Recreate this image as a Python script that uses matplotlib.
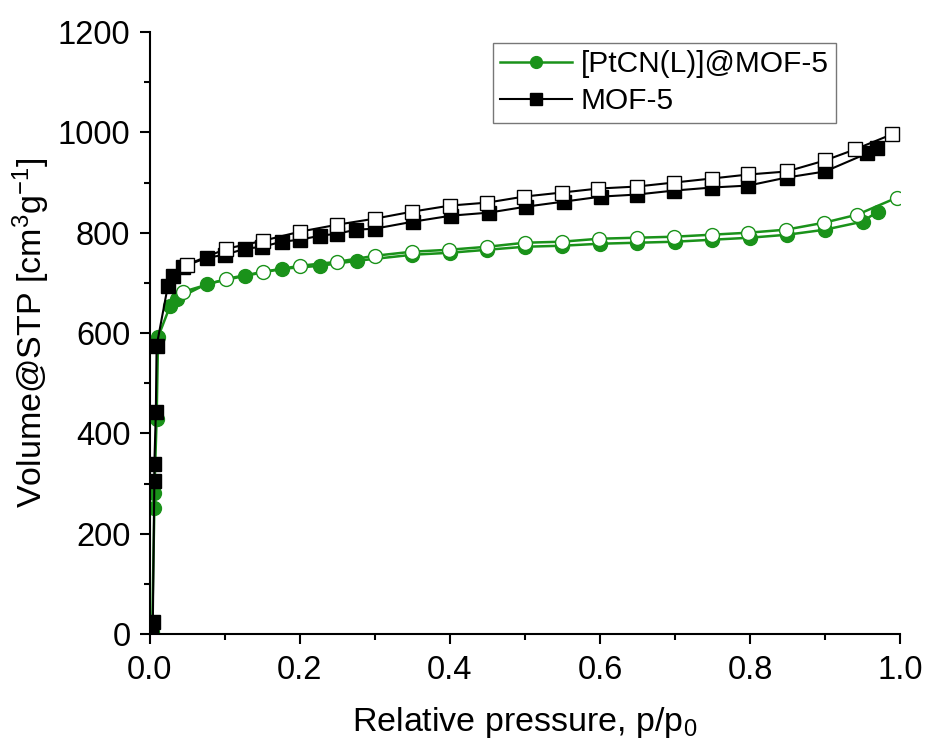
import numpy as np
import matplotlib.pyplot as plt
from matplotlib.ticker import MultipleLocator

plt.rcParams['font.family'] = ['Liberation Sans', 'DejaVu Sans']
plt.rcParams['mathtext.fontset'] = 'custom'
plt.rcParams['mathtext.rm'] = 'Liberation Sans'
plt.rcParams['mathtext.it'] = 'Liberation Sans:italic'

# MOF-5 adsorption (filled) / desorption (open)
mof_ads_p = [0.001, 0.004, 0.006, 0.006, 0.008, 0.009, 0.024, 0.031, 0.044, 0.076, 0.1, 0.127,
             0.15, 0.176, 0.2, 0.227, 0.25, 0.275, 0.3, 0.351, 0.402, 0.452, 0.502, 0.552,
             0.602, 0.649, 0.699, 0.749, 0.798, 0.849, 0.9, 0.956, 0.969]
mof_ads_v = [8, 24, 304, 338, 442, 574, 694, 714, 732, 750, 756, 768,
             772, 782, 786, 794, 798, 806, 808, 822, 834, 840, 852, 862,
             872, 876, 884, 890, 894, 910, 922, 958, 968]
mof_des_p = [0.989, 0.94, 0.9, 0.849, 0.798, 0.749, 0.699, 0.649, 0.598, 0.549, 0.499,
             0.45, 0.4, 0.35, 0.3, 0.25, 0.2, 0.151, 0.102, 0.049]
mof_des_v = [996, 966, 944, 922, 916, 908, 900, 892, 888, 880, 872,
             860, 854, 842, 828, 816, 802, 784, 768, 736]

# [PtCN(L)]@MOF-5 adsorption (filled) / desorption (open)
pt_ads_p = [0.001, 0.003, 0.006, 0.006, 0.009, 0.011, 0.027, 0.036, 0.076, 0.127, 0.176,
            0.227, 0.276, 0.35, 0.4, 0.45, 0.5, 0.55, 0.6, 0.65, 0.7, 0.75, 0.8,
            0.85, 0.9, 0.95, 0.97]
pt_ads_v = [2, 4, 252, 282, 428, 592, 654, 668, 698, 714, 728,
            734, 744, 756, 760, 766, 772, 774, 778, 780, 782, 786, 790,
            796, 806, 822, 842]
pt_des_p = [0.996, 0.943, 0.899, 0.848, 0.798, 0.749, 0.699, 0.65, 0.599, 0.549, 0.5,
            0.45, 0.399, 0.349, 0.3, 0.25, 0.2, 0.151, 0.102, 0.044]
pt_des_v = [870, 836, 820, 806, 800, 796, 792, 790, 788, 782, 780,
            772, 766, 762, 754, 742, 734, 722, 708, 682]

green = '#1a921a'
fs = 23.5

fig = plt.figure(figsize=(9.25, 7.45), dpi=100)
ax = fig.add_axes([0.162, 0.149, 0.811, 0.808])

ax.plot(pt_ads_p, pt_ads_v, '-o', color=green, lw=1.8, ms=10, mfc=green, mec=green,
        label='[PtCN(L)]@MOF-5')
ax.plot(pt_des_p, pt_des_v, '-o', color=green, lw=1.8, ms=10, mfc='white', mec=green)
ax.plot(mof_ads_p, mof_ads_v, '-s', color='black', lw=1.5, ms=9.5, mfc='black', mec='black',
        label='MOF-5')
ax.plot(mof_des_p, mof_des_v, '-s', color='black', lw=1.5, ms=9.5, mfc='white', mec='black')

ax.set_xlim(0, 1.0)
ax.set_ylim(0, 1200)
ax.xaxis.set_major_locator(MultipleLocator(0.2))
ax.xaxis.set_minor_locator(MultipleLocator(0.1))
ax.yaxis.set_major_locator(MultipleLocator(200))
ax.yaxis.set_minor_locator(MultipleLocator(100))
ax.set_xticklabels([f'{v:.1f}' for v in ax.get_xticks()])

for s in ['top', 'right']:
    ax.spines[s].set_visible(False)
for s in ['left', 'bottom']:
    ax.spines[s].set_linewidth(1.5)
ax.tick_params(which='major', direction='out', length=7, width=1.5, labelsize=fs)
ax.tick_params(axis='x', which='major', pad=8)
ax.tick_params(axis='y', which='major', pad=7)
ax.tick_params(which='minor', direction='out', length=4, width=1.5)

ax.set_xlabel('Relative pressure, p/p$_0$', fontsize=24.5, labelpad=14)
ax.set_ylabel('Volume@STP [cm$^3$g$^{-1}$]', fontsize=24.5, labelpad=4)

leg = ax.legend(loc='upper left', bbox_to_anchor=(0.457, 0.982), fontsize=21.5,
                frameon=True, fancybox=False, handlelength=2.4, borderpad=0.25,
                labelspacing=0.3, handletextpad=0.3, markerscale=0.85, borderaxespad=0)
leg.get_frame().set_edgecolor('#555555')
leg.get_frame().set_linewidth(1.0)

fig.savefig('out.png', dpi=100)
